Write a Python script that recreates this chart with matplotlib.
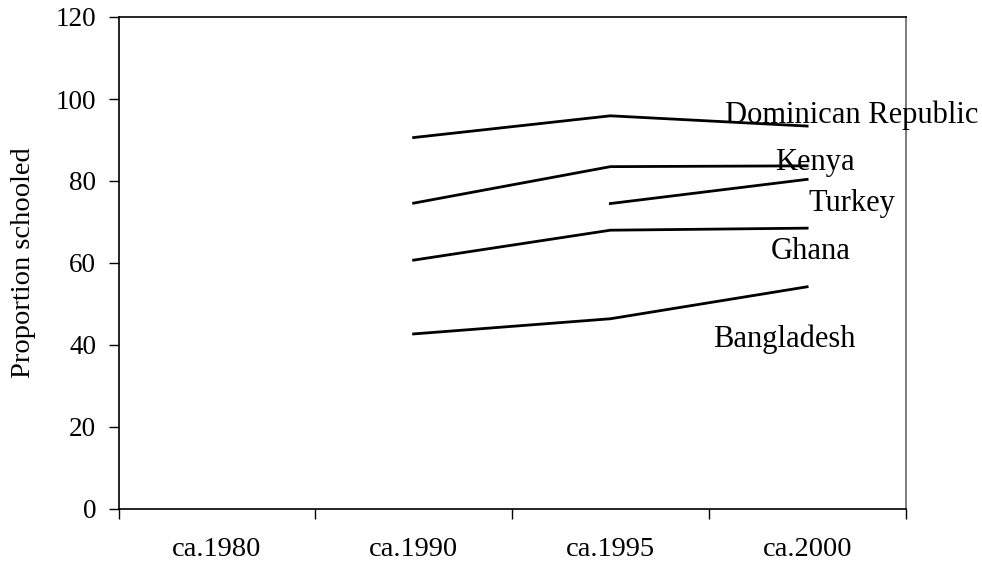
import matplotlib
matplotlib.use("Agg")
import matplotlib.pyplot as plt
import numpy as np

categories = ["ca.1980", "ca.1990", "ca.1995", "ca.2000"]
nan = np.nan
series_names = ["Dominican Republic", "Kenya", "Turkey", "Ghana", "Bangladesh"]
dominican = [nan, 90.6, 95.9, 93.4]
kenya = [nan, 74.6, 83.5, 83.7]
turkey = [nan, nan, 74.5, 80.4]
ghana = [nan, 60.7, 68.0, 68.5]
bangladesh = [nan, 42.7, 46.4, 54.2]
series = [dominican, kenya, turkey, ghana, bangladesh]

# label anchor positions (category-x, value-y) for text placement
label_x = [2.585, 2.839, 3.007, 2.814, 2.524]
label_y = [96.0, 84.6, 74.4, 62.9, 41.5]

plt.rcParams['font.family'] = ['Liberation Serif', 'DejaVu Serif']
fig = plt.figure(figsize=(9.82, 5.69), dpi=100)
ax = fig.add_axes([118.5/982, 1-509/569, (905.5-118.5)/982, (509-17)/569])

x = np.arange(len(categories))
for vals in series:
    ax.plot(x, vals, color='black', lw=2.0, solid_joinstyle='miter')

for name, lx, ly in zip(series_names, label_x, label_y):
    ax.text(lx, ly, name, fontsize=22, ha='left', va='center', clip_on=False)

ax.set_xlim(-0.5, 3.5)
ax.set_ylim(0, 120)
ax.set_yticks(np.arange(0, 121, 20))
ax.set_xticks(x)
ax.set_xticklabels(categories)
ax.set_xticks(np.arange(-0.5, 3.6, 1.0), minor=True)
ax.tick_params(axis='x', which='major', length=0, pad=20, labelsize=20.5)
ax.tick_params(axis='x', which='minor', length=7, width=1, direction='out')
ax.tick_params(axis='y', which='major', length=7, width=1, direction='out', pad=9, labelsize=19.5)
ax.set_ylabel("Proportion schooled", fontsize=20.5, labelpad=14)
for s in ['left', 'bottom', 'top']:
    ax.spines[s].set_color('black')
    ax.spines[s].set_linewidth(1.2)
ax.spines['right'].set_color('#666666')
ax.spines['right'].set_linewidth(1.2)

fig.savefig("out.png", dpi=100)
